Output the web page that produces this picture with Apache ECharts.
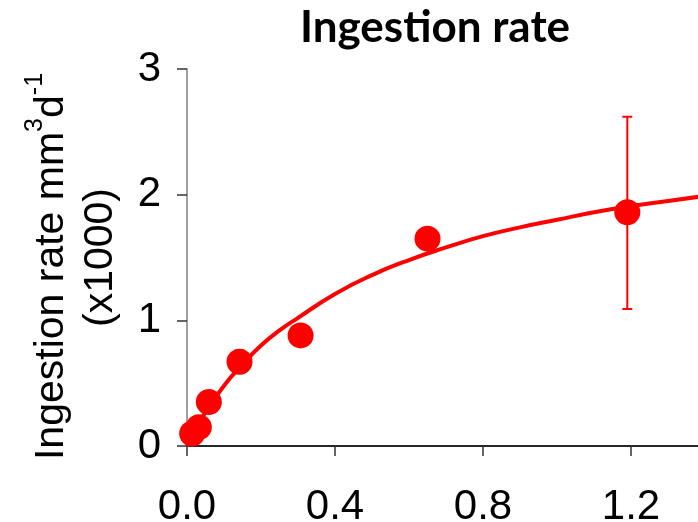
<!DOCTYPE html>
<html>
<head>
<meta charset="utf-8">
<script src="https://cdn.jsdelivr.net/npm/echarts@6/dist/echarts.min.js"></script>
<style>
  html, body { margin: 0; padding: 0; background: #fff; }
  #chart { width: 698px; height: 522px; }
</style>
</head>
<body>
<div id="chart"></div>
<script>
// Measured food concentration (x) and ingestion rate (x1000 mm3 d-1)
const concentration = [0.014, 0.032, 0.059, 0.142, 0.307, 0.650, 1.190];
const ingestion     = [0.10, 0.15, 0.35, 0.67, 0.88, 1.65, 1.86];
// Error bar bounds (only where visible)
const errLow  = [null, null, null, 0.58, null, null, 1.09];
const errHigh = [null, null, null, 0.76, null, null, 2.62];
// Fitted saturating curve, sampled
const fitX = [0, 0.025, 0.05, 0.1, 0.15, 0.2, 0.25, 0.3, 0.4, 0.5, 0.6, 0.7, 0.8, 0.9, 1.0, 1.1, 1.2, 1.3, 1.4];
const fitY = [0, 0.14, 0.27, 0.48, 0.65, 0.80, 0.92, 1.02, 1.21, 1.36, 1.48, 1.58, 1.67, 1.74, 1.80, 1.86, 1.91, 1.95, 1.99];
// Axis ticks
const xTicks = [0, 0.4, 0.8, 1.2];
const yTicks = [0, 1, 2, 3];

const RED = '#ff0000';
const chart = echarts.init(document.getElementById('chart'), null, { renderer: 'canvas' });

const points = concentration.map((x, i) => [x, ingestion[i]]);
const fit = fitX.map((x, i) => [x, fitY[i]]);
const bars = concentration
  .map((x, i) => [x, errLow[i], errHigh[i]])
  .filter(d => d[1] !== null);

chart.setOption({
  animation: false,
  title: {
    text: 'Ingestion rate',
    left: 430, top: 1, textAlign: 'center',
    textStyle: { fontFamily: 'Lato', fontWeight: 'bold', fontSize: 44, color: '#000' }
  },
  grid: {
    left: 187, width: 518, top: 69, bottom: 76,
    containLabel: false, outerBoundsMode: 'none'
  },
  xAxis: [{
    type: 'value', min: 0, max: 1.4, interval: 0.4,
    axisLine: { onZero: false, lineStyle: { color: '#808080', width: 1.5 } },
    axisTick: { length: 10, lineStyle: { color: '#333', width: 1.5 } },
    axisLabel: {
      margin: 40, fontFamily: 'Liberation Sans', fontSize: 42, color: '#000',
      formatter: v => xTicks.some(t => Math.abs(t - v) < 1e-9) ? v.toFixed(1) : ''
    },
    splitLine: { show: false }
  }, {
    type: 'value', position: 'top', min: 0, max: 1.4,
    axisLine: { show: true, lineStyle: { color: '#000', width: 1.5 } },
    axisTick: { show: false }, axisLabel: { show: false }, splitLine: { show: false }
  }],
  yAxis: {
    type: 'value', min: 0, max: 3, interval: 1,
    axisLine: { show: true, lineStyle: { color: '#808080', width: 1.5 } },
    axisTick: { show: true, length: 10, lineStyle: { color: '#333', width: 1.5 } },
    axisLabel: {
      margin: 26, fontFamily: 'Liberation Sans', fontSize: 42, color: '#000',
      formatter: v => yTicks.includes(v) ? String(v) : ''
    },
    splitLine: { show: false },
    name: '{a|Ingestion rate mm}{s|3}{a|d}{t|-1}\n{a|(x1000)}',
    nameLocation: 'middle', nameRotate: 90, nameGap: 66,
    nameTextStyle: {
      rich: {
        a: { fontFamily: 'Liberation Sans', fontSize: 41, color: '#000', lineHeight: 49, verticalAlign: 'bottom' },
        s: { fontFamily: 'Liberation Sans', fontSize: 25, color: '#000', lineHeight: 49, verticalAlign: 'top' },
        t: { fontFamily: 'Liberation Sans', fontSize: 25, color: '#000', lineHeight: 49, verticalAlign: 'top', padding: [0, 18, 0, 0] }
      }
    }
  },
  series: [{
    type: 'line', data: fit, smooth: true, showSymbol: false, xAxisIndex: 0,
    lineStyle: { color: RED, width: 4 }, z: 2
  }, {
    type: 'custom', xAxisIndex: 0, data: bars, z: 3,
    renderItem: (params, api) => {
      const x = api.value(0);
      const lo = api.coord([x, api.value(1)]);
      const hi = api.coord([x, api.value(2)]);
      const cap = 5;
      const style = { stroke: RED, lineWidth: 2 };
      return {
        type: 'group',
        children: [
          { type: 'line', shape: { x1: lo[0], y1: lo[1], x2: hi[0], y2: hi[1] }, style },
          { type: 'line', shape: { x1: lo[0] - cap, y1: lo[1], x2: lo[0] + cap, y2: lo[1] }, style },
          { type: 'line', shape: { x1: hi[0] - cap, y1: hi[1], x2: hi[0] + cap, y2: hi[1] }, style }
        ]
      };
    }
  }, {
    type: 'scatter', data: points, xAxisIndex: 0, symbol: 'circle', symbolSize: 26,
    itemStyle: { color: RED, opacity: 1 }, z: 4
  }]
});
</script>
</body>
</html>
